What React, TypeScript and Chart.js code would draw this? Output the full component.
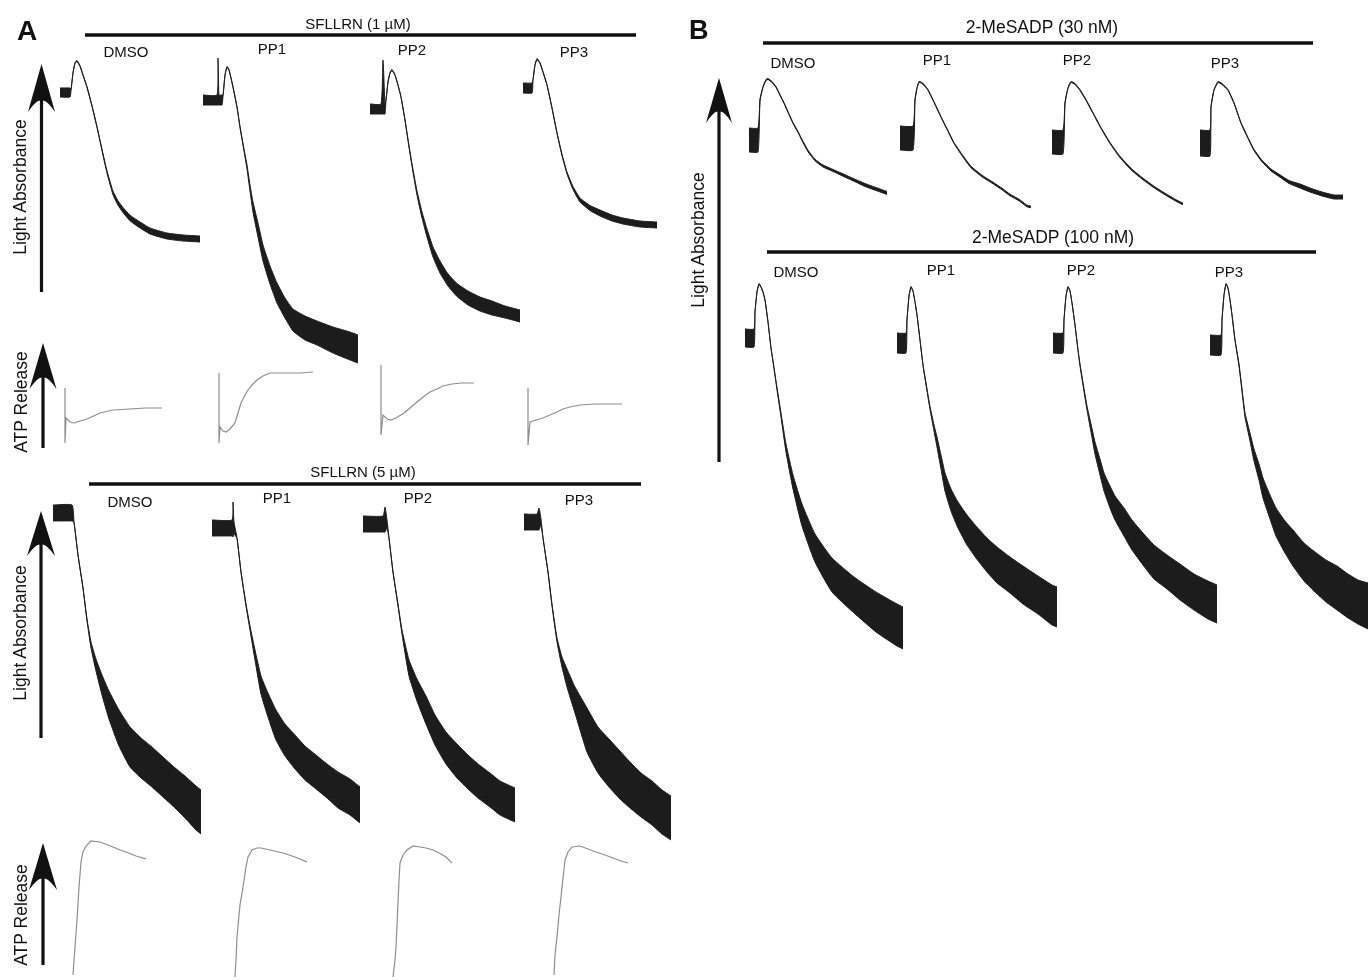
import React, { useEffect, useRef } from "react";
import { Chart, registerables } from "chart.js";
Chart.register(...registerables);

// ---------------- data (time in s, signal in arbitrary units) ----------------
const CONDITIONS = ["DMSO", "PP1", "PP2", "PP3"];
const GROUP_TITLES = ["SFLLRN (1 µM)", "SFLLRN (5 µM)", "2-MeSADP (30 nM)", "2-MeSADP (100 nM)"];
const AXIS_LABELS = ["Light Absorbance", "ATP Release"];

// Panel A, SFLLRN 1 µM, light absorbance (v = mean, n = noise half-band)
const A1_DMSO_T = [0, 20, 22, 26, 30, 34, 40, 46, 54, 64, 74, 84, 94, 106, 116, 126, 140, 154, 180, 214, 246, 280];
const A1_DMSO_V = [287.5, 287.5, 290, 307, 317, 319, 314, 305, 293, 274, 253, 230, 208, 187, 177, 170, 162, 157, 149, 144, 142, 141];
const A1_DMSO_N = [4.5, 4.5, 0.5, 0.5, 0.5, 0.5, 0.5, 0.5, 0.5, 0.6, 0.6, 0.8, 1.2, 1.8, 2.2, 2.5, 2.8, 3, 3, 3, 3, 3];
const A1_PP1_T = [0, 28, 30, 32, 38, 40, 44, 48, 52, 56, 60, 68, 74, 82, 88, 94, 100, 110, 120, 134, 148, 164, 180, 204, 228, 260, 294, 310];
const A1_PP1_V = [280, 280, 298.5, 280, 280, 284, 305, 313, 310, 302, 293, 273, 253, 230, 213, 192, 173, 150, 127, 105, 87, 72, 60, 52, 47, 40, 34, 31];
const A1_PP1_N = [5, 5, 23.5, 5, 5, 0.5, 0.5, 0.5, 0.5, 0.5, 0.5, 0.6, 0.8, 1, 2, 3, 5, 7, 8, 9, 10, 10, 11, 12, 12, 13, 14, 14];
const A1_PP2_T = [0, 22, 26, 30, 32, 36, 40, 44, 50, 56, 62, 70, 76, 84, 94, 104, 114, 126, 140, 156, 174, 196, 220, 244, 270, 300];
const A1_PP2_V = [271, 271, 293, 271, 280, 298, 307, 310, 305, 295, 283, 260, 240, 215, 187, 165, 147, 128, 113, 100, 90, 82, 76, 72, 68, 64];
const A1_PP2_N = [5, 5, 27, 5, 0.5, 0.5, 0.5, 0.5, 0.5, 0.5, 0.5, 0.6, 0.8, 1.2, 2, 3, 4, 5, 6, 6, 6.5, 7, 7, 7, 6, 6];
const A1_PP3_T = [0, 18, 20, 24, 28, 34, 40, 48, 58, 68, 78, 88, 100, 114, 134, 154, 178, 200, 234, 268];
const A1_PP3_V = [292, 292, 300, 315, 321, 317, 308, 295, 272, 247, 225, 207, 192, 180, 172, 167, 162, 159, 156, 155];
const A1_PP3_N = [5, 5, 0.5, 0.5, 0.5, 0.5, 0.5, 0.5, 0.5, 0.5, 0.8, 1, 1.5, 2, 2.5, 3, 3, 3, 3, 3];

// Panel A, SFLLRN 1 µM, ATP release
const ATP1_DMSO_T = [2, 2, 4, 12, 20, 32, 46, 72, 98, 132, 162, 196];
const ATP1_DMSO_V = [62, 7, 32, 28, 27, 29, 31, 37, 40, 41, 42, 42];
const ATP1_PP1_T = [6, 6, 8, 14, 20, 28, 38, 44, 50, 58, 64, 72, 82, 94, 108, 142, 168, 194];
const ATP1_PP1_V = [77, 7, 23, 19, 18, 21, 27, 37, 47, 55, 60, 65, 70, 74, 77, 77, 77, 78];
const ATP1_PP2_T = [6, 6, 10, 18, 26, 36, 52, 64, 78, 90, 104, 118, 130, 148, 166, 192];
const ATP1_PP2_V = [85, 15, 35, 31, 30, 32, 37, 42, 48, 53, 58, 61, 64, 66, 67, 67];
const ATP1_PP3_T = [6, 6, 10, 22, 36, 50, 64, 76, 90, 110, 140, 168, 194];
const ATP1_PP3_V = [62, 5, 28, 30, 32, 35, 38, 41, 43, 45, 46, 46, 46];

// Panel A, SFLLRN 5 µM, light absorbance
const A2_DMSO_T = [0, 38, 42, 50, 60, 68, 76, 86, 98, 112, 132, 154, 176, 198, 220, 242, 264, 286, 296];
const A2_DMSO_V = [337, 337, 328, 295, 262, 230, 205, 185, 165, 145, 122, 103, 92, 83, 73, 63, 53, 42, 38];
const A2_DMSO_N = [8, 8, 0.5, 0.5, 0.5, 1, 3, 6, 10, 14, 18, 20, 20, 20, 20, 20, 21, 22, 22];
const A2_PP1_T = [0, 40, 42, 44, 50, 58, 68, 76, 86, 98, 112, 128, 146, 166, 186, 208, 230, 252, 276, 296];
const A2_PP1_V = [322, 322, 330.5, 322, 312, 278, 245, 222, 195, 165, 145, 125, 110, 98, 87, 78, 69, 60, 53, 45];
const A2_PP1_N = [8, 8, 17.5, 6, 0.5, 0.5, 1, 2, 5, 9, 12, 15, 16, 17, 17, 17, 17, 18, 18, 18];
const A2_PP2_T = [0, 40, 44, 48, 52, 60, 70, 78, 92, 108, 126, 144, 166, 188, 210, 230, 254, 274, 304];
const A2_PP2_V = [326, 326, 330.5, 326, 312, 278, 245, 218, 182, 160, 140, 120, 102, 89, 78, 69, 60, 52, 45];
const A2_PP2_N = [8, 8, 12.5, 4, 0.5, 0.5, 1, 2, 8, 11, 14, 15, 16, 17, 17, 17, 17, 17, 17];
const A2_PP3_T = [0, 26, 30, 34, 38, 48, 56, 66, 76, 86, 102, 126, 148, 170, 192, 212, 234, 256, 276, 294];
const A2_PP3_V = [328, 328, 331, 328, 312, 278, 245, 210, 188, 172, 150, 120, 100, 87, 75, 65, 55, 47, 38, 32];
const A2_PP3_N = [8, 8, 11, 3, 0.5, 0.5, 1, 2, 5, 9, 13, 22, 23, 24, 24, 23, 22, 22, 22, 22];

// Panel A, SFLLRN 5 µM, ATP release
const ATP2_DMSO_T = [6, 8, 10, 14, 18, 22, 26, 32, 42, 60, 76, 86, 100, 112, 132, 152];
const ATP2_DMSO_V = [5, 20, 33, 60, 93, 118, 128, 134, 139, 138, 135, 133, 130, 128, 124, 121];
const ATP2_PP1_T = [6, 8, 10, 16, 22, 28, 32, 40, 50, 58, 76, 102, 126, 150];
const ATP2_PP1_V = [3, 20, 43, 75, 93, 113, 123, 130, 132, 132, 130, 127, 123, 118];
const ATP2_PP2_T = [6, 10, 12, 14, 16, 18, 20, 26, 34, 46, 60, 72, 86, 98, 112, 124];
const ATP2_PP2_V = [3, 20, 33, 55, 77, 100, 117, 125, 130, 134, 133, 132, 130, 127, 123, 117];
const ATP2_PP3_T = [6, 8, 12, 16, 20, 24, 28, 34, 42, 58, 74, 90, 108, 124, 140, 154];
const ATP2_PP3_V = [5, 25, 43, 65, 83, 102, 120, 128, 133, 134, 131, 128, 125, 122, 119, 117];

// Panel B, 2-MeSADP 30 nM
const B1_DMSO_T = [2, 20, 24, 30, 36, 40, 48, 56, 64, 72, 80, 90, 100, 108, 120, 134, 150, 168, 190, 212, 234, 256, 278];
const B1_DMSO_V = [75, 75, 115, 128, 135, 136, 133, 128, 120, 112, 103, 92, 83, 75, 64, 55, 49, 45, 40, 35, 30, 26, 22];
const B1_DMSO_N = [12, 12, 1, 0.5, 0.5, 0.5, 0.5, 0.5, 0.5, 0.5, 0.5, 0.6, 0.6, 0.7, 0.8, 0.8, 1, 1, 1.2, 1.2, 1.5, 1.5, 1.5];
const B1_PP1_T = [2, 28, 32, 36, 40, 46, 52, 58, 70, 84, 98, 110, 126, 144, 166, 188, 206, 222, 240, 256, 264];
const B1_PP1_V = [77, 77, 115, 127, 133, 132, 129, 125, 113, 98, 84, 72, 60, 48, 39, 32, 26, 20, 15, 9, 8];
const B1_PP1_N = [12, 12, 1, 0.5, 0.5, 0.5, 0.5, 0.5, 0.5, 0.5, 0.6, 0.6, 0.7, 0.8, 0.8, 0.8, 0.8, 0.8, 0.8, 0.8, 0.8];
const B1_PP2_T = [2, 24, 28, 34, 40, 48, 58, 70, 84, 100, 118, 138, 162, 184, 206, 228, 252, 264];
const B1_PP2_V = [73, 73, 112, 127, 133, 131, 125, 115, 102, 87, 72, 58, 45, 36, 28, 21, 14, 11];
const B1_PP2_N = [12, 12, 1, 0.5, 0.5, 0.5, 0.5, 0.5, 0.5, 0.5, 0.6, 0.7, 0.8, 0.8, 0.8, 0.8, 0.8, 0.8];
const B1_PP3_T = [2, 22, 24, 30, 38, 46, 58, 70, 84, 98, 110, 126, 144, 162, 180, 202, 222, 246, 270, 288];
const B1_PP3_V = [72, 72, 108, 125, 133, 131, 125, 112, 92, 77, 65, 54, 45, 39, 33, 29, 25, 21, 18, 18];
const B1_PP3_N = [13, 13, 1, 0.5, 0.5, 0.5, 0.5, 0.5, 0.5, 0.6, 0.7, 0.8, 1, 1.2, 1.5, 2, 2, 2, 2, 2];

// Panel B, 2-MeSADP 100 nM
const B2_DMSO_T = [0, 18, 20, 24, 28, 32, 36, 40, 46, 52, 58, 62, 72, 82, 96, 114, 140, 174, 218, 262, 304, 316];
const B2_DMSO_V = [317, 317, 343, 363, 371, 368, 363, 355, 333, 307, 287, 273, 240, 207, 173, 140, 107, 80, 60, 43, 30, 27];
const B2_DMSO_N = [9, 9, 0.5, 0.5, 0.5, 0.5, 0.5, 0.5, 0.5, 0.5, 0.8, 1, 2, 4, 7, 11, 14, 17, 18, 20, 21, 21];
const B2_PP1_T = [0, 18, 20, 24, 28, 32, 36, 40, 46, 52, 60, 66, 74, 80, 88, 96, 108, 122, 140, 158, 180, 200, 226, 252, 282, 310, 320];
const B2_PP1_V = [312, 312, 335, 359, 368, 364, 353, 340, 315, 290, 265, 247, 227, 213, 193, 173, 155, 140, 125, 113, 100, 90, 80, 70, 60, 50, 48];
const B2_PP1_N = [10, 10, 0.5, 0.5, 0.5, 0.5, 0.5, 0.5, 0.5, 0.5, 1, 1.5, 3, 5, 7, 9, 11, 13, 15, 16, 17, 18, 18, 19, 19, 20, 20];
const B2_PP2_T = [0, 20, 22, 26, 30, 34, 38, 44, 50, 54, 62, 68, 76, 84, 94, 102, 114, 124, 142, 158, 180, 202, 228, 254, 282, 310, 328];
const B2_PP2_V = [312, 312, 335, 359, 368, 364, 352, 330, 305, 290, 265, 247, 227, 207, 188, 173, 158, 147, 133, 120, 106, 93, 83, 73, 63, 55, 51];
const B2_PP2_N = [10, 10, 0.5, 0.5, 0.5, 0.5, 0.5, 0.5, 0.5, 1, 1.5, 2, 4, 6, 8, 9, 11, 12, 14, 15, 16, 17, 17, 18, 18, 19, 19];
const B2_PP3_T = [0, 22, 24, 28, 32, 36, 40, 44, 50, 58, 64, 70, 80, 88, 98, 106, 120, 132, 150, 166, 188, 210, 232, 254, 276, 296, 316];
const B2_PP3_V = [310, 310, 335, 360, 371, 367, 355, 340, 315, 290, 265, 240, 218, 200, 183, 167, 148, 133, 118, 107, 93, 83, 74, 67, 59, 53, 49];
const B2_PP3_N = [10, 10, 0.5, 0.5, 0.5, 0.5, 0.5, 0.5, 0.5, 1, 1.5, 2, 4, 6, 8, 10, 12, 14, 16, 18, 19, 20, 21, 22, 22, 22, 23];

// ---------------- layout ----------------
const PX_PER_S = 0.5;
const PAD = 4;
const FONT = "'Liberation Sans', Arial, Helvetica, sans-serif";
const ABS_COLOR = "#1c1c1c";
const ATP_COLOR = "#8e8e8e";

type TraceSpec = { x0: number; t: number[]; v: number[]; n?: number[] };
type RowSpec = { top: number; height: number; atp?: boolean; traces: TraceSpec[] };

const ROWS: RowSpec[] = [
  { top: 50, height: 330, traces: [
    { x0: 60, t: A1_DMSO_T, v: A1_DMSO_V, n: A1_DMSO_N },
    { x0: 203, t: A1_PP1_T, v: A1_PP1_V, n: A1_PP1_N },
    { x0: 370, t: A1_PP2_T, v: A1_PP2_V, n: A1_PP2_N },
    { x0: 523, t: A1_PP3_T, v: A1_PP3_V, n: A1_PP3_N },
  ] },
  { top: 360, height: 90, atp: true, traces: [
    { x0: 64, t: ATP1_DMSO_T, v: ATP1_DMSO_V },
    { x0: 216, t: ATP1_PP1_T, v: ATP1_PP1_V },
    { x0: 378, t: ATP1_PP2_T, v: ATP1_PP2_V },
    { x0: 525, t: ATP1_PP3_T, v: ATP1_PP3_V },
  ] },
  { top: 495, height: 355, traces: [
    { x0: 53, t: A2_DMSO_T, v: A2_DMSO_V, n: A2_DMSO_N },
    { x0: 212, t: A2_PP1_T, v: A2_PP1_V, n: A2_PP1_N },
    { x0: 363, t: A2_PP2_T, v: A2_PP2_V, n: A2_PP2_N },
    { x0: 524, t: A2_PP3_T, v: A2_PP3_V, n: A2_PP3_N },
  ] },
  { top: 835, height: 145, atp: true, traces: [
    { x0: 70, t: ATP2_DMSO_T, v: ATP2_DMSO_V },
    { x0: 232, t: ATP2_PP1_T, v: ATP2_PP1_V },
    { x0: 390, t: ATP2_PP2_T, v: ATP2_PP2_V },
    { x0: 551, t: ATP2_PP3_T, v: ATP2_PP3_V },
  ] },
  { top: 70, height: 145, traces: [
    { x0: 748, t: B1_DMSO_T, v: B1_DMSO_V, n: B1_DMSO_N },
    { x0: 899, t: B1_PP1_T, v: B1_PP1_V, n: B1_PP1_N },
    { x0: 1051, t: B1_PP2_T, v: B1_PP2_V, n: B1_PP2_N },
    { x0: 1199, t: B1_PP3_T, v: B1_PP3_V, n: B1_PP3_N },
  ] },
  { top: 275, height: 380, traces: [
    { x0: 745, t: B2_DMSO_T, v: B2_DMSO_V, n: B2_DMSO_N },
    { x0: 897, t: B2_PP1_T, v: B2_PP1_V, n: B2_PP1_N },
    { x0: 1053, t: B2_PP2_T, v: B2_PP2_V, n: B2_PP2_N },
    { x0: 1210, t: B2_PP3_T, v: B2_PP3_V, n: B2_PP3_N },
  ] },
];

// group headers: title index, bar x1..x2, bar y, title centre/baseline, font size, condition label centres/baselines
const GROUPS = [
  { title: 0, x1: 85, x2: 636, y: 35, tx: 358, ty: 28.5, fs: 15, lx: [126, 272, 412, 574], ly: [57, 53.5, 55, 56.5] },
  { title: 1, x1: 89, x2: 641, y: 484, tx: 363, ty: 477, fs: 15, lx: [130, 277, 418, 579], ly: [507, 503, 503, 505] },
  { title: 2, x1: 763, x2: 1313, y: 43, tx: 1042, ty: 33, fs: 17.5, lx: [793, 937, 1077, 1225], ly: [68, 65, 65, 68] },
  { title: 3, x1: 767, x2: 1316, y: 252, tx: 1053, ty: 243, fs: 17.5, lx: [796, 941, 1081, 1229], ly: [277, 275, 275, 277] },
];

// vertical axis arrows: label index, x, tip, head back, notch, half width, bottom, label baseline x, label centre y
const ARROWS = [
  { label: 0, cx: 41.5, tip: 64, back: 112, notch: 101, hw: 13.5, bottom: 292, lx: 26, ly: 187 },
  { label: 1, cx: 43, tip: 343, back: 389, notch: 378, hw: 13.5, bottom: 448, lx: 27, ly: 402 },
  { label: 0, cx: 41, tip: 511, back: 556, notch: 545, hw: 14, bottom: 738, lx: 26, ly: 633 },
  { label: 1, cx: 43, tip: 843, back: 890, notch: 879, hw: 14, bottom: 965, lx: 27, ly: 915 },
  { label: 0, cx: 719, tip: 78, back: 123, notch: 112, hw: 13, bottom: 462, lx: 704, ly: 240 },
];

function Trace({ spec, top, height, atp }: { spec: TraceSpec; top: number; height: number; atp?: boolean }) {
  const ref = useRef<HTMLCanvasElement | null>(null);
  const tMax = spec.t[spec.t.length - 1];
  const w = Math.ceil(tMax * PX_PER_S) + 2 * PAD;
  const h = height + 2 * PAD;
  useEffect(() => {
    if (!ref.current) return;
    const color = atp ? ATP_COLOR : ABS_COLOR;
    const datasets: any[] = [];
    if (spec.n) {
      const n = spec.n;
      datasets.push({
        data: spec.t.map((x, i) => ({ x, y: spec.v[i] + n[i] })),
        borderColor: color, borderWidth: 1, pointRadius: 0, fill: false, tension: 0.15,
      });
      datasets.push({
        data: spec.t.map((x, i) => ({ x, y: spec.v[i] - n[i] })),
        borderColor: color, borderWidth: 1, pointRadius: 0, fill: "-1", backgroundColor: color, tension: 0.15,
      });
    } else {
      datasets.push({
        data: spec.t.map((x, i) => ({ x, y: spec.v[i] })),
        borderColor: color, borderWidth: 1.2, pointRadius: 0, fill: false, tension: 0,
      });
    }
    const chart = new Chart(ref.current, {
      type: "line",
      data: { datasets },
      options: {
        animation: false,
        responsive: false,
        maintainAspectRatio: false,
        events: [],
        layout: { padding: PAD },
        plugins: { legend: { display: false }, tooltip: { enabled: false }, title: { display: false } },
        scales: {
          x: { type: "linear", min: 0, max: tMax, display: false },
          y: { type: "linear", min: 0, max: height, display: false },
        },
      },
    });
    return () => chart.destroy();
  }, []);
  return (
    <canvas
      ref={ref}
      width={w}
      height={h}
      style={{ position: "absolute", left: spec.x0 - PAD, top: top - PAD, width: w, height: h }}
    />
  );
}

export default function App() {
  return (
    <div style={{ position: "absolute", left: 0, top: 0, width: 1370, height: 980, background: "#fff", overflow: "hidden" }}>
      {ROWS.map((row, ri) =>
        row.traces.map((tr, ti) => (
          <Trace key={`${ri}-${ti}`} spec={tr} top={row.top} height={row.height} atp={row.atp} />
        ))
      )}
      <svg width={1370} height={980} style={{ position: "absolute", left: 0, top: 0, pointerEvents: "none" }} fontFamily={FONT}>
        <text x={17} y={40} fontSize={28} fontWeight="bold" fill="#111">A</text>
        <text x={689} y={39} fontSize={27} fontWeight="bold" fill="#111">B</text>
        {GROUPS.map((g, gi) => (
          <g key={gi}>
            <line x1={g.x1} x2={g.x2} y1={g.y} y2={g.y} stroke="#111" strokeWidth={3.5} />
            <text x={g.tx} y={g.ty} fontSize={g.fs} textAnchor="middle" fill="#111">{GROUP_TITLES[g.title]}</text>
            {CONDITIONS.map((c, ci) => (
              <text key={ci} x={g.lx[ci]} y={g.ly[ci]} fontSize={15} textAnchor="middle" fill="#111">{c}</text>
            ))}
          </g>
        ))}
        {ARROWS.map((a, ai) => (
          <g key={ai}>
            <rect x={a.cx - 1.6} y={a.notch - 2} width={3.2} height={a.bottom - a.notch + 2} fill="#111" />
            <path
              d={`M ${a.cx} ${a.tip} L ${a.cx + a.hw} ${a.back} Q ${a.cx + 4} ${a.notch - 3} ${a.cx} ${a.notch} Q ${a.cx - 4} ${a.notch - 3} ${a.cx - a.hw} ${a.back} Z`}
              fill="#111"
            />
            <text
              transform={`translate(${a.lx}, ${a.ly}) rotate(-90)`}
              fontSize={17.5}
              textAnchor="middle"
              fill="#111"
            >
              {AXIS_LABELS[a.label]}
            </text>
          </g>
        ))}
      </svg>
    </div>
  );
}
